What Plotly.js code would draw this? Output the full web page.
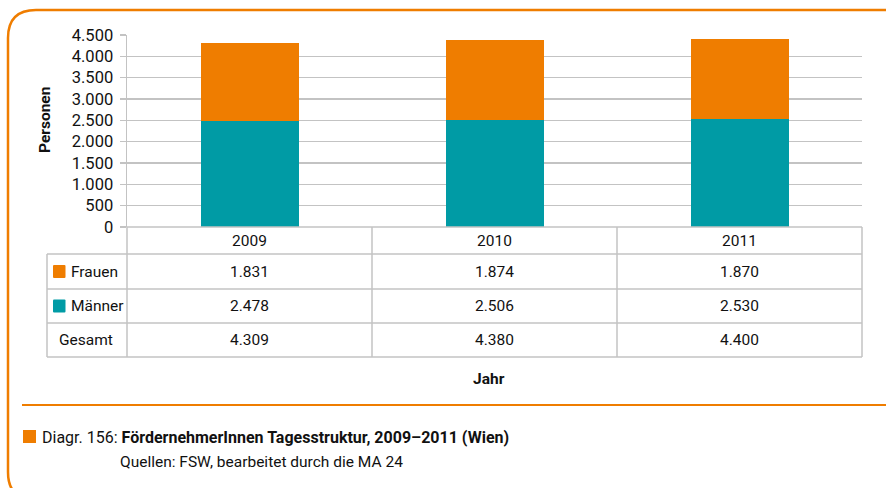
<!DOCTYPE html>
<html>
<head>
<meta charset="utf-8">
<script src="https://cdn.plot.ly/plotly-3.0.1.min.js"></script>
<style>
  html, body { margin: 0; padding: 0; background: #ffffff; }
  #chart { width: 886px; height: 488px; }
</style>
</head>
<body>
<div id="chart"></div>
<script>
// ---- data ----
const years = ['2009', '2010', '2011'];
const frauen = [1831, 1874, 1870];
const maenner = [2478, 2506, 2530];
const gesamt = [4309, 4380, 4400];
const seriesNames = ['Frauen', 'Männer'];
const totalLabel = 'Gesamt';
const yTitle = 'Personen';
const xTitle = 'Jahr';
const captionPrefix = 'Diagr. 156: ';
const captionTitle = 'FördernehmerInnen Tagesstruktur, 2009–2011 (Wien)';
const captionSource = 'Quellen: FSW, bearbeitet durch die MA 24';

// ---- style ----
const ORANGE = '#EF7D00';
const TEAL = '#009BA5';
const GRID = '#c3c3c3';
const FONT = 'Roboto, "Liberation Sans", Arial, sans-serif';

const W = 886, H = 488;
const L = 127, R = 862, T = 35, B = 227;
const px = x => (x - L) / (R - L);
const py = y => (B - y) / (B - T);

function fmt(v) {
  return v.toString().replace(/\B(?=(\d{3})+(?!\d))/g, '.');
}

const traces = [
  {
    type: 'bar', name: seriesNames[1], x: years, y: maenner,
    marker: { color: TEAL },
    width: 0.4, hoverinfo: 'skip'
  },
  {
    type: 'bar', name: seriesNames[0], x: years, y: frauen,
    marker: { color: ORANGE },
    width: 0.4, hoverinfo: 'skip'
  }
];

const shapes = [];
const annotations = [];

// Frame (rounded, orange)
const fx0 = 8, fy0 = 10, fx1 = 960, fy1 = 500, rad = 28;
shapes.push({
  type: 'path', xref: 'paper', yref: 'paper',
  path: `M ${px(fx0)},${py(fy1 - rad)} L ${px(fx0)},${py(fy0 + rad)} Q ${px(fx0)},${py(fy0)} ${px(fx0 + rad)},${py(fy0)} L ${px(fx1)},${py(fy0)}` +
        ` M ${px(fx0)},${py(fy1 - rad)} Q ${px(fx0)},${py(fy1)} ${px(fx0 + rad)},${py(fy1)}`,
  line: { color: ORANGE, width: 2.5 }, layer: 'below'
});
// separator line above caption
shapes.push({
  type: 'line', xref: 'paper', yref: 'paper',
  x0: px(22), x1: px(900), y0: py(405), y1: py(405),
  line: { color: ORANGE, width: 2 }
});

// Table lines
const tl = { color: GRID, width: 1.5 };
const rowY = [227, 254, 289, 323, 357];
const colX = [127, 372, 617, 862];
const hdrX = 47;
shapes.push({ type: 'line', xref: 'paper', yref: 'paper', x0: px(127), x1: px(862), y0: py(rowY[0]), y1: py(rowY[0]), line: tl });
for (let i = 1; i < rowY.length; i++) {
  shapes.push({ type: 'line', xref: 'paper', yref: 'paper', x0: px(hdrX), x1: px(862), y0: py(rowY[i]), y1: py(rowY[i]), line: tl });
}
colX.forEach(x => {
  shapes.push({ type: 'line', xref: 'paper', yref: 'paper', x0: px(x), x1: px(x), y0: py(rowY[0]), y1: py(rowY[4]), line: tl });
});
shapes.push({ type: 'line', xref: 'paper', yref: 'paper', x0: px(hdrX), x1: px(hdrX), y0: py(rowY[1]), y1: py(rowY[4]), line: tl });

const cellFont = { family: FONT, size: 15.5, color: '#111111' };
const rowMid = i => py((rowY[i] + rowY[i + 1]) / 2);

years.forEach((yr, i) => {
  const xi = i; // category index on the x axis
  annotations.push({ xref: 'x', yref: 'paper', x: xi, y: rowMid(0), text: yr, showarrow: false, font: cellFont, xanchor: 'center', yanchor: 'middle' });
  annotations.push({ xref: 'x', yref: 'paper', x: xi, y: rowMid(1), text: fmt(frauen[i]), showarrow: false, font: cellFont, xanchor: 'center', yanchor: 'middle' });
  annotations.push({ xref: 'x', yref: 'paper', x: xi, y: rowMid(2), text: fmt(maenner[i]), showarrow: false, font: cellFont, xanchor: 'center', yanchor: 'middle' });
  annotations.push({ xref: 'x', yref: 'paper', x: xi, y: rowMid(3), text: fmt(gesamt[i]), showarrow: false, font: cellFont, xanchor: 'center', yanchor: 'middle' });
});

[[seriesNames[0], ORANGE, 1], [seriesNames[1], TEAL, 2]].forEach(([name, col, r]) => {
  const cy = (rowY[r] + rowY[r + 1]) / 2;
  shapes.push({ type: 'path', xref: 'paper', yref: 'paper',
    path: `M ${px(54)},${py(cy - 6.5)} L ${px(64.5)},${py(cy - 6.5)} Q ${px(65.5)},${py(cy - 6.5)} ${px(65.5)},${py(cy - 5.5)} L ${px(65.5)},${py(cy + 5.5)} Q ${px(65.5)},${py(cy + 6.5)} ${px(64.5)},${py(cy + 6.5)} L ${px(54)},${py(cy + 6.5)} Q ${px(53)},${py(cy + 6.5)} ${px(53)},${py(cy + 5.5)} L ${px(53)},${py(cy - 5.5)} Q ${px(53)},${py(cy - 6.5)} ${px(54)},${py(cy - 6.5)} Z`,
    fillcolor: col, line: { width: 0 } });
  annotations.push({ xref: 'paper', yref: 'paper', x: px(69), y: py(cy), text: name, showarrow: false, font: cellFont, xanchor: 'left', yanchor: 'middle' });
});
annotations.push({ xref: 'paper', yref: 'paper', x: px(86), y: rowMid(3), text: totalLabel, showarrow: false, font: cellFont, xanchor: 'center', yanchor: 'middle' });

annotations.push({ xref: 'paper', yref: 'paper', x: px(45), y: py(120), text: '<b>' + yTitle + '</b>', textangle: -90, showarrow: false, font: { family: FONT, size: 15.5, color: '#111111' }, xanchor: 'center', yanchor: 'middle' });
annotations.push({ xref: 'paper', yref: 'paper', x: px(489), y: py(379), text: '<b>' + xTitle + '</b>', showarrow: false, font: { family: FONT, size: 15.5, color: '#111111' }, xanchor: 'center', yanchor: 'middle' });

shapes.push({ type: 'rect', xref: 'paper', yref: 'paper', x0: px(23), x1: px(36), y0: py(430), y1: py(443), fillcolor: ORANGE, line: { width: 0 } });
annotations.push({ xref: 'paper', yref: 'paper', x: px(40), y: py(437), text: captionPrefix + '<b>' + captionTitle + '</b>', showarrow: false, font: { family: FONT, size: 16, color: '#111111' }, xanchor: 'left', yanchor: 'middle' });
annotations.push({ xref: 'paper', yref: 'paper', x: px(118), y: py(462), text: captionSource, showarrow: false, font: { family: FONT, size: 15.5, color: '#111111' }, xanchor: 'left', yanchor: 'middle' });

const layout = {
  width: W, height: H,
  margin: { l: L, r: W - R, t: T, b: H - B, pad: 0 },
  paper_bgcolor: '#ffffff', plot_bgcolor: '#ffffff',
  barmode: 'stack',
  showlegend: false,
  separators: ',.',
  font: { family: FONT, size: 16, color: '#111111' },
  xaxis: {
    type: 'category', categoryorder: 'array', categoryarray: years,
    range: [-0.5, years.length - 0.5], autorange: false,
    showticklabels: false, ticks: '', showgrid: false,
    zeroline: false, showline: false
  },
  yaxis: {
    range: [0, 4500], autorange: false, dtick: 500, tick0: 0, tickformat: ',d',
    showgrid: true, gridcolor: GRID, gridwidth: 1.5,
    zeroline: false, showline: true, linecolor: GRID, linewidth: 1.5,
    ticks: 'outside', ticklen: 6, tickcolor: GRID, tickwidth: 1.5,
    ticklabelstandoff: 3,
    tickfont: { family: FONT, size: 16.5, color: '#111111' }
  },
  shapes: shapes,
  annotations: annotations
};

Plotly.newPlot('chart', traces, layout, { displayModeBar: false, staticPlot: true });
</script>
</body>
</html>
